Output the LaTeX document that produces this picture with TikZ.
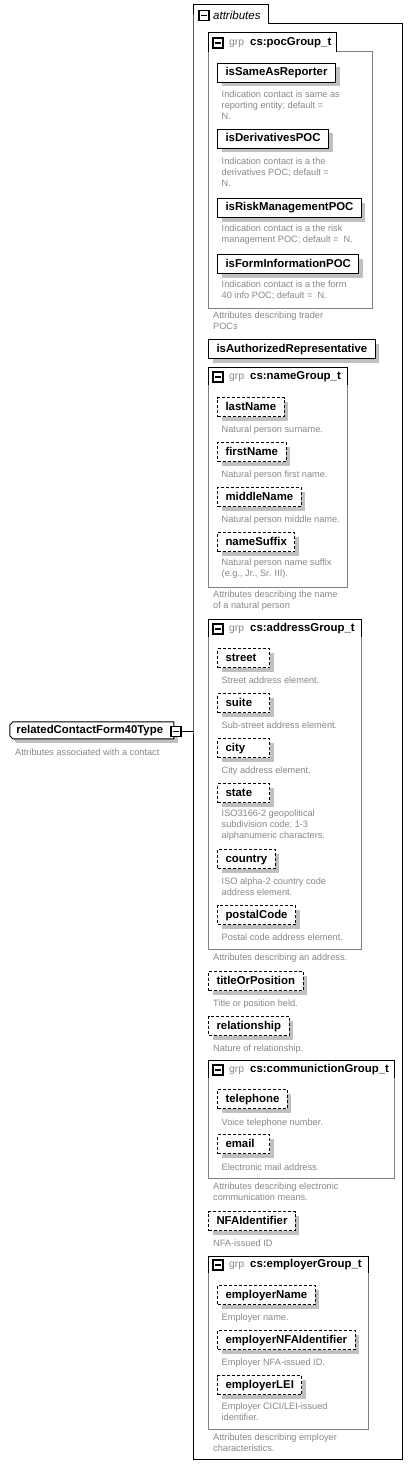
\documentclass[tikz,border=0pt]{standalone}
\usepackage{fontspec}
\setmainfont{Liberation Sans}
\usetikzlibrary{shapes.misc, shadows}
\definecolor{descgray}{RGB}{135,135,135}
\definecolor{boxgray}{RGB}{128,128,128}
\definecolor{shadowgray}{RGB}{192,192,192}
\newcommand{\lblfont}{\fontsize{11.4}{13}\selectfont\bfseries}
\newcommand{\dscfont}{\fontsize{9.2}{11}\selectfont}
\newcommand{\grp}{{\fontsize{10.4}{12}\selectfont\mdseries\color{descgray}grp}\hspace{6pt}}
\tikzstyle{attr} = [rectangle, draw=black, line width=1pt, fill=white, anchor=north west, minimum height=19pt, inner xsep=8pt, inner ysep=0pt, text height=8.5pt, text depth=2.5pt, font=\lblfont, drop shadow={shadow xshift=4pt, shadow yshift=-4pt, fill=shadowgray, opacity=1}]
\tikzstyle{optattr} = [attr, dash pattern=on 3pt off 2pt]
\tikzstyle{short} = [text width=36pt, align=left]
\tikzstyle{descr} = [anchor=north west, inner sep=0pt, align=left, text=descgray, font=\dscfont, execute at begin node={\rule{0pt}{7.2pt}}]
\tikzstyle{minus} = [rectangle, draw=black, line width=1.2pt, fill=white, minimum size=10pt, inner sep=0pt]
\tikzstyle{grptitle} = [anchor=west, inner sep=0pt, font=\lblfont]
\tikzstyle{grpbody} = [draw=boxgray, line width=1pt]
\tikzstyle{grptab} = [draw=black, line width=1pt]
\tikzstyle{ctype} = [chamfered rectangle, chamfered rectangle corners={north west, south west}, chamfered rectangle xsep=1.5pt, chamfered rectangle ysep=1.5pt, draw=black, line width=1pt, fill=white, anchor=north west, inner xsep=5pt, inner ysep=0pt, text height=8.5pt, text depth=2.5pt, text width=151pt, align=left, minimum height=17pt, font=\lblfont, drop shadow={shadow xshift=4pt, shadow yshift=-4pt, fill=shadowgray, opacity=1}]
\tikzstyle{arrow} = [draw=black, line width=1pt]

\begin{document}
\begin{tikzpicture}[x=1pt, y=-1pt]
\useasboundingbox (0,0) rectangle (413,1466);

% complex type
\node (ctype) [ctype] at (11,723) {relatedContactForm40Type};
\node (ctype_d) [descr] at (15,748) {Attributes associated with a contact};
\node (ctype_minus) [minus] at (176,731.5) {\rule{6pt}{1.2pt}};

% attributes container
\draw [grptab] (193,24) -- (193,5) -- (268,5) -- (268,24) -- (402,24) -- (402,1459) -- (193,1459) -- cycle;
\node (attr_minus) [minus] at (204,15.5) {\rule{6pt}{1.2pt}};
\node (attr_title) [grptitle, font=\fontsize{11.5}{13}\selectfont\itshape] at (213,15) {attributes};
\coordinate (attr_left) at (193,731.5);
\draw [arrow] (ctype_minus) -- (attr_left);

% pocGroup
\draw [grpbody] (336,52) -- (372,52) -- (372,308) -- (208,308) -- (208,52);
\draw [grptab] (208,52) -- (208,33) -- (336,33) -- (336,52);
\node (poc_minus) [minus] at (218,43) {\rule{6pt}{1.2pt}};
\node (poc_title) [grptitle] at (229,43) {\grp cs:pocGroup\_t};

\node (same) [attr] at (217,63) {isSameAsReporter};
\node (same_d) [descr] at (221.5,91) {Indication contact is same as\\reporting entity; default =\\N.};
\node (deriv) [attr] at (217,129) {isDerivativesPOC};
\node (deriv_d) [descr] at (221.5,158) {Indication contact is a the\\derivatives POC; default =\\N.};
\node (risk) [attr] at (217,198) {isRiskManagementPOC};
\node (risk_d) [descr] at (221.5,225) {Indication contact is a the risk\\management POC; default =\ \ N.};
\node (forminfo) [attr] at (217,254) {isFormInformationPOC};
\node (forminfo_d) [descr] at (221.5,281) {Indication contact is a the form\\40 info POC; default =\ \ N.};
\node (poc_d) [descr] at (213,312) {Attributes describing trader\\POCs};

\node (authrep) [attr] at (208,339) {isAuthorizedRepresentative};

% nameGroup
\draw [grpbody] (347,385) -- (347,587) -- (208,587) -- (208,385);
\draw [grptab] (208,385) -- (208,367) -- (347,367) -- (347,385);
\node (name_minus) [minus] at (218,377) {\rule{6pt}{1.2pt}};
\node (name_title) [grptitle] at (229,377) {\grp cs:nameGroup\_t};

\node (lastname) [optattr] at (217,397) {lastName};
\node (lastname_d) [descr] at (221.5,425) {Natural person surname.};
\node (firstname) [optattr] at (217,442) {firstName};
\node (firstname_d) [descr] at (221.5,470) {Natural person first name.};
\node (middlename) [optattr] at (217,487) {middleName};
\node (middlename_d) [descr] at (221.5,515) {Natural person middle name.};
\node (suffix) [optattr] at (217,532) {nameSuffix};
\node (suffix_d) [descr] at (221.5,559) {Natural person name suffix\\(e.g., Jr., Sr. III).};
\node (name_d) [descr] at (213,591) {Attributes describing the name\\of a natural person};

% addressGroup
\draw [grpbody] (361,637) -- (361,949) -- (208,949) -- (208,637);
\draw [grptab] (208,637) -- (208,619) -- (361,619) -- (361,637);
\node (addr_minus) [minus] at (218,629) {\rule{6pt}{1.2pt}};
\node (addr_title) [grptitle] at (229,629) {\grp cs:addressGroup\_t};

\node (street) [optattr, short] at (217,648) {street};
\node (street_d) [descr] at (221.5,676) {Street address element.};
\node (suite) [optattr, short] at (217,693) {suite};
\node (suite_d) [descr] at (221.5,721) {Sub-street address element.};
\node (city) [optattr, short] at (217,738) {city};
\node (city_d) [descr] at (221.5,766) {City address element.};
\node (state) [optattr, short] at (217,783) {state};
\node (state_d) [descr] at (221.5,810) {ISO3166-2 geopolitical\\subdivision code; 1-3\\alphanumeric characters.};
\node (country) [optattr] at (217,849) {country};
\node (country_d) [descr] at (221.5,878) {ISO alpha-2 country code\\address element.};
\node (postal) [optattr] at (217,905) {postalCode};
\node (postal_d) [descr] at (221.5,933) {Postal code address element.};
\node (addr_d) [descr] at (213,953) {Attributes describing an address.};

\node (title) [optattr] at (208,971) {titleOrPosition};
\node (title_d) [descr] at (213,999) {Title or position held.};
\node (relation) [optattr] at (208,1016) {relationship};
\node (relation_d) [descr] at (213,1044) {Nature of relationship.};

% communictionGroup
\draw [grpbody] (394,1078) -- (394,1178) -- (208,1178) -- (208,1078);
\draw [grptab] (208,1078) -- (208,1060) -- (394,1060) -- (394,1078);
\node (comm_minus) [minus] at (218,1070) {\rule{6pt}{1.2pt}};
\node (comm_title) [grptitle] at (229,1070) {\grp cs:communictionGroup\_t};

\node (phone) [optattr] at (217,1089) {telephone};
\node (phone_d) [descr] at (221.5,1118) {Voice telephone number.};
\node (email) [optattr, short] at (217,1134) {email};
\node (email_d) [descr] at (221.5,1163) {Electronic mail address.};
\node (comm_d) [descr] at (213,1183) {Attributes describing electronic\\communication means.};

\node (nfaid) [optattr] at (208,1211) {NFAIdentifier};
\node (nfaid_d) [descr] at (213,1239) {NFA-issued ID};

% employerGroup
\draw [grpbody] (368,1273) -- (368,1429) -- (208,1429) -- (208,1273);
\draw [grptab] (208,1273) -- (208,1256) -- (368,1256) -- (368,1273);
\node (empl_minus) [minus] at (218,1265) {\rule{6pt}{1.2pt}};
\node (empl_title) [grptitle] at (229,1265) {\grp cs:employerGroup\_t};

\node (emplname) [optattr] at (217,1285) {employerName};
\node (emplname_d) [descr] at (221.5,1313) {Employer name.};
\node (emplnfa) [optattr] at (217,1330) {employerNFAIdentifier};
\node (emplnfa_d) [descr] at (221.5,1358) {Employer NFA-issued ID.};
\node (emplei) [optattr] at (217,1375) {employerLEI};
\node (emplei_d) [descr] at (221.5,1403) {Employer CICI/LEI-issued\\identifier.};
\node (empl_d) [descr] at (213,1434) {Attributes describing employer\\characteristics.};

\end{tikzpicture}
\end{document}
